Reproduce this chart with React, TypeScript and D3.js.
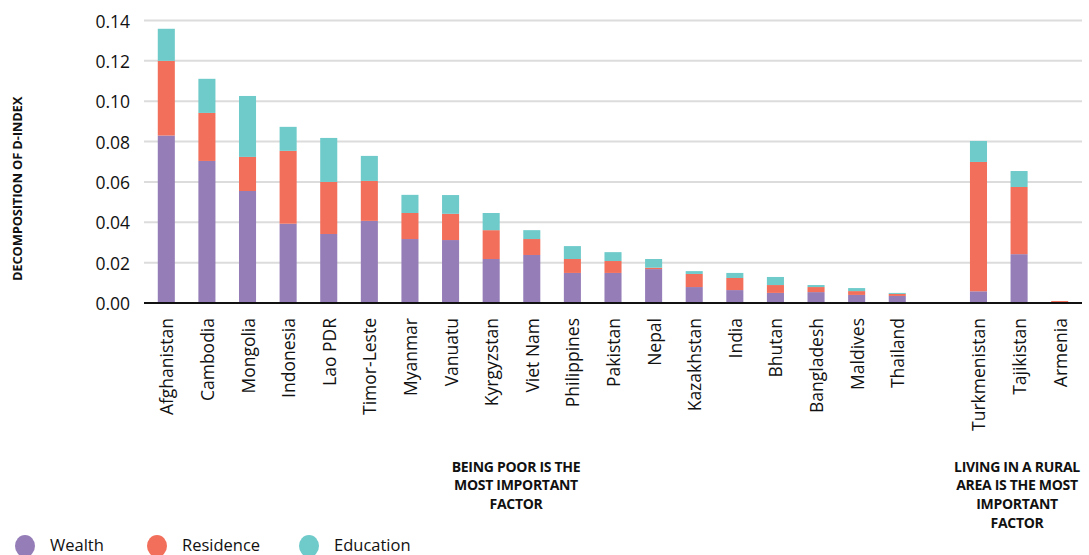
import React from 'react';
import * as d3 from 'd3';

// countries in chart order; '' is the empty slot between the two groups
const countries = [
  'Afghanistan', 'Cambodia', 'Mongolia', 'Indonesia', 'Lao PDR', 'Timor-Leste',
  'Myanmar', 'Vanuatu', 'Kyrgyzstan', 'Viet Nam', 'Philippines', 'Pakistan',
  'Nepal', 'Kazakhstan', 'India', 'Bhutan', 'Bangladesh', 'Maldives', 'Thailand',
  '', 'Turkmenistan', 'Tajikistan', 'Armenia',
];

const wealth = [
  0.083, 0.0704, 0.0555, 0.0393, 0.0342, 0.0407,
  0.0317, 0.0312, 0.0218, 0.0238, 0.0149, 0.0149,
  0.0168, 0.0079, 0.0064, 0.005, 0.0054, 0.004, 0.0035,
  0, 0.0058, 0.0242, 0,
];

const residence = [
  0.037, 0.0238, 0.0169, 0.0361, 0.0258, 0.0198,
  0.0129, 0.013, 0.0143, 0.0079, 0.0069, 0.0059,
  0.0007, 0.0065, 0.006, 0.0039, 0.0025, 0.0019, 0.001,
  0, 0.0641, 0.0333, 0.001,
];

const education = [
  0.0159, 0.0169, 0.0302, 0.0119, 0.0218, 0.0124,
  0.009, 0.0093, 0.0085, 0.0044, 0.0064, 0.0044,
  0.0043, 0.0014, 0.0025, 0.004, 0.001, 0.0015, 0.0005,
  0, 0.0104, 0.0079, 0,
];

const yTicks = [0, 0.02, 0.04, 0.06, 0.08, 0.1, 0.12, 0.14];

const seriesNames = ['Wealth', 'Residence', 'Education'];
const colors = ['#957db8', '#f26f5b', '#6fcaca'];

const noteLeft = ['BEING POOR IS THE', 'MOST IMPORTANT', 'FACTOR'];
const noteRight = ['LIVING IN A RURAL', 'AREA IS THE MOST', 'IMPORTANT', 'FACTOR'];

const font = '"Open Sans", sans-serif';
const ink = '#111';

const App = () => {
  const width = 1089;
  const height = 555;

  const x = d3.scaleBand<string>()
    .domain(countries.map((c, i) => c || `gap-${i}`))
    .range([146, 1080])
    .paddingInner(0.58)
    .paddingOuter(0.29);

  const y = d3.scaleLinear().domain([0, 0.14]).range([303, 20.5]);

  const rows = countries.map((c, i) => ({
    key: c || `gap-${i}`,
    name: c,
    Wealth: wealth[i],
    Residence: residence[i],
    Education: education[i],
  }));

  const stack = d3.stack<any>().keys(seriesNames);
  const layers = stack(rows);

  const [x0, x1] = x.range();

  // legend swatch centres
  const legendX = [25, 157, 309];

  return (
    <svg
      width={width}
      height={height}
      style={{ position: 'absolute', left: 0, top: 0, background: '#fff' }}
      fontFamily={font}
    >
      {/* grid + y ticks */}
      {yTicks.map((t) => (
        <g key={t}>
          {t > 0 && (
            <line x1={x0 - 2} x2={x1 + 2} y1={y(t)} y2={y(t)} stroke="#dcdcdc" strokeWidth={2} />
          )}
          <text
            x={130}
            y={y(t)}
            textAnchor="end"
            dominantBaseline="central"
            fontSize={17.5}
            fill={ink}
          >
            {d3.format('.2f')(t)}
          </text>
        </g>
      ))}

      {/* stacked bars */}
      {layers.map((layer, li) => (
        <g key={layer.key} fill={colors[li]}>
          {layer.map((d, i) => {
            const h = y(d[0]) - y(d[1]);
            if (h <= 0) return null;
            return (
              <rect
                key={i}
                x={x(rows[i].key)}
                width={x.bandwidth()}
                y={y(d[1])}
                height={h}
              />
            );
          })}
        </g>
      ))}

      {/* baseline */}
      <line x1={x0 - 2} x2={x1 + 2} y1={y(0)} y2={y(0)} stroke="#111" strokeWidth={2} />

      {/* x labels */}
      {rows.filter((r) => r.name).map((r) => {
        const cx = (x(r.key) as number) + x.bandwidth() / 2;
        return (
          <text
            key={r.key}
            transform={`translate(${cx},318) rotate(-90)`}
            textAnchor="end"
            dominantBaseline="central"
            fontSize={17.5}
            fill={ink}
          >
            {r.name}
          </text>
        );
      })}

      {/* y axis title */}
      <text
        transform="translate(17,189) rotate(-90)"
        textAnchor="middle"
        dominantBaseline="central"
        fontSize={13}
        fontWeight="bold"
        letterSpacing={-0.2}
        fill={ink}
      >
        DECOMPOSITION OF D-INDEX
      </text>

      {/* group notes */}
      {noteLeft.map((t, i) => (
        <text key={t} x={516} y={466 + i * 18.7} textAnchor="middle" dominantBaseline="central"
          fontSize={14} fontWeight="bold" letterSpacing={-0.3} fill={ink}>
          {t}
        </text>
      ))}
      {noteRight.map((t, i) => (
        <text key={t} x={1017} y={466 + i * 18.7} textAnchor="middle" dominantBaseline="central"
          fontSize={14} fontWeight="bold" letterSpacing={-0.3} fill={ink}>
          {t}
        </text>
      ))}

      {/* legend */}
      {seriesNames.map((s, i) => {
        const lx = legendX[i];
        return (
          <g key={s}>
            <ellipse cx={lx} cy={546} rx={10} ry={11} fill={colors[i]} />
            <text x={lx + 25} y={544} dominantBaseline="central" fontSize={16.5} fill={ink}>
              {s}
            </text>
          </g>
        );
      })}
    </svg>
  );
};

export default App;
